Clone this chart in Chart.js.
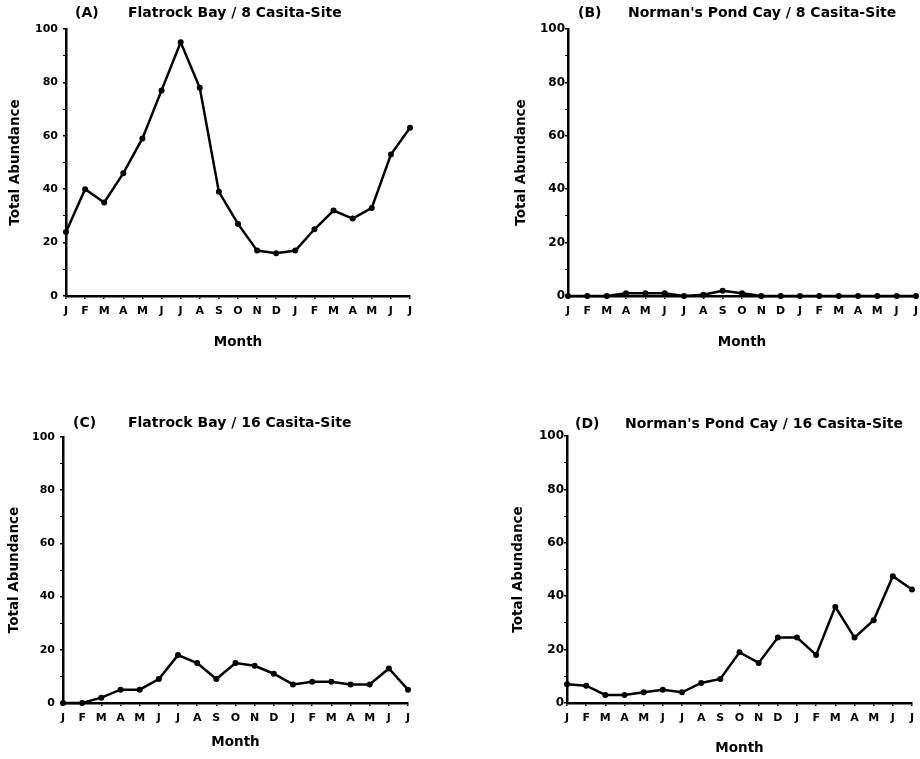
<!DOCTYPE html>
<html>
<head>
<meta charset="utf-8">
<script src="https://cdn.jsdelivr.net/npm/chart.js@4"></script>
<style>
  html, body { margin: 0; padding: 0; background: #fff; }
  #wrap { position: relative; width: 920px; height: 759px; overflow: hidden; }
  #wrap canvas { position: absolute; }
</style>
</head>
<body>
<div id="wrap"></div>
<script>
// Monthly sampling, January through the following July
const months = ['J','F','M','A','M','J','J','A','S','O','N','D','J','F','M','A','M','J','J'];
const yTickLabels = [0, 20, 40, 60, 80, 100];

// Total abundance per month at each site
const flatrock8  = [24, 40, 35, 46, 59, 77, 95, 78, 39, 27, 17, 16, 17, 25, 32, 29, 33, 53, 63];
const normans8   = [0, 0, 0, 1, 1, 1, 0, 0.5, 2, 1, 0, 0, 0, 0, 0, 0, 0, 0, 0];
const flatrock16 = [0, 0, 2, 5, 5, 9, 18, 15, 9, 15, 14, 11, 7, 8, 8, 7, 7, 13, 5];
const normans16  = [7, 6.5, 3, 3, 4, 5, 4, 7.5, 9, 19, 15, 24.5, 24.5, 18, 36, 24.5, 31, 47.5, 42.5];

const panelTags   = ['(A)', '(B)', '(C)', '(D)'];
const panelNames  = ['Flatrock Bay / 8 Casita-Site', "Norman's Pond Cay / 8 Casita-Site",
                     'Flatrock Bay / 16 Casita-Site', "Norman's Pond Cay / 16 Casita-Site"];
const panelSeries = [flatrock8, normans8, flatrock16, normans16];

// Page geometry of each panel: canvas box, plot area, text anchors
const layouts = [
  { box: [0, 0, 460, 372],   area: [66, 29, 410, 296],  tagX: 75,  nameX: 128, titleY: 13,  yTitleX: 15,  monthY: 342, yFont: 11, yPad: 5, xPad: 6 },
  { box: [460, 0, 460, 372], area: [568, 29, 916, 296], tagX: 578, nameX: 628, titleY: 13,  yTitleX: 521, monthY: 342, yFont: 12, yPad: 0, xPad: 6 },
  { box: [0, 375, 460, 384], area: [63, 437, 408, 703], tagX: 73,  nameX: 128, titleY: 423, yTitleX: 14,  monthY: 742, yFont: 11, yPad: 5, xPad: 6 },
  { box: [460, 375, 460, 384], area: [567, 436, 912, 703], tagX: 575, nameX: 625, titleY: 424, yTitleX: 518, monthY: 748, yFont: 12, yPad: 0, xPad: 6 }
];

const FAMILY = '"DejaVu Sans", "Liberation Sans", Arial, sans-serif';
const AXIS_TITLE_SIZE = 13.5;
const AXIS_TITLE_LH = AXIS_TITLE_SIZE * 1.2;

Chart.defaults.font.family = FAMILY;
Chart.defaults.font.weight = 'bold';
Chart.defaults.color = '#000';

// Draws the "(X)   site name" heading above each plot
const panelTitle = {
  id: 'panelTitle',
  afterDraw(chart, args, opts) {
    const { ctx, chartArea } = chart;
    ctx.save();
    ctx.font = 'bold 14px ' + FAMILY;
    ctx.fillStyle = '#000';
    ctx.textBaseline = 'middle';
    ctx.textAlign = 'left';
    ctx.fillText(opts.tag, chartArea.left + opts.tagDx, opts.y);
    ctx.fillText(opts.name, chartArea.left + opts.nameDx, opts.y);
    ctx.restore();
  }
};

const wrap = document.getElementById('wrap');

panelSeries.forEach((series, i) => {
  const L = layouts[i];
  const [bx, by, bw, bh] = L.box;
  const [al, at, ar, ab] = L.area;

  const canvas = document.createElement('canvas');
  canvas.width = bw; canvas.height = bh;
  canvas.style.left = bx + 'px'; canvas.style.top = by + 'px';
  canvas.style.width = bw + 'px'; canvas.style.height = bh + 'px';
  wrap.appendChild(canvas);

  const padLeft = L.yTitleX - bx - AXIS_TITLE_LH / 2;
  const yWidth = al - bx - padLeft;
  const padTop = at - by;
  const padRight = bx + bw - ar;
  const xBottom = L.monthY + AXIS_TITLE_LH / 2;
  const xHeight = xBottom - ab;
  const padBottom = by + bh - xBottom;

  new Chart(canvas, {
    type: 'line',
    data: {
      labels: months,
      datasets: [{
        data: series,
        borderColor: '#000',
        backgroundColor: '#000',
        borderWidth: 2.5,
        pointRadius: 3,
        pointBorderWidth: 0,
        pointBackgroundColor: '#000',
        tension: 0,
        clip: false
      }]
    },
    options: {
      responsive: false,
      animation: false,
      events: [],
      layout: { padding: { left: padLeft, top: padTop, right: padRight, bottom: padBottom } },
      plugins: {
        legend: { display: false },
        tooltip: { enabled: false },
        panelTitle: {
          tag: panelTags[i], name: panelNames[i],
          tagDx: L.tagX - al, nameDx: L.nameX - al, y: L.titleY - by
        }
      },
      scales: {
        x: {
          type: 'category',
          offset: false,
          border: { display: true, color: '#000', width: 2.5 },
          grid: { display: true, drawOnChartArea: false, drawTicks: true, tickLength: 3, color: '#000', lineWidth: 1.5 },
          ticks: { autoSkip: false, maxRotation: 0, minRotation: 0, padding: L.xPad, font: { size: 11, weight: 'bold' } },
          title: { display: true, text: 'Month', padding: 0, font: { size: AXIS_TITLE_SIZE, weight: 'bold' } },
          afterFit(scale) { scale.height = xHeight; scale.paddingLeft = 0; scale.paddingRight = 0; }
        },
        y: {
          min: 0, max: 100,
          border: { display: true, color: '#000', width: 2.5 },
          grid: {
            display: true, drawOnChartArea: false, drawTicks: true, tickLength: 3, color: '#000',
            lineWidth: ctx => (ctx.tick && yTickLabels.includes(ctx.tick.value)) ? 1.5 : 1
          },
          ticks: {
            stepSize: 10, autoSkip: false, padding: L.yPad,
            font: { size: L.yFont, weight: 'bold' },
            callback: v => yTickLabels.includes(v) ? String(v) : ''
          },
          title: { display: true, text: 'Total Abundance', padding: 0, font: { size: AXIS_TITLE_SIZE, weight: 'bold' } },
          afterFit(scale) { scale.width = yWidth; scale.paddingTop = 0; scale.paddingBottom = 0; }
        }
      }
    },
    plugins: [panelTitle]
  });
});
</script>
</body>
</html>
